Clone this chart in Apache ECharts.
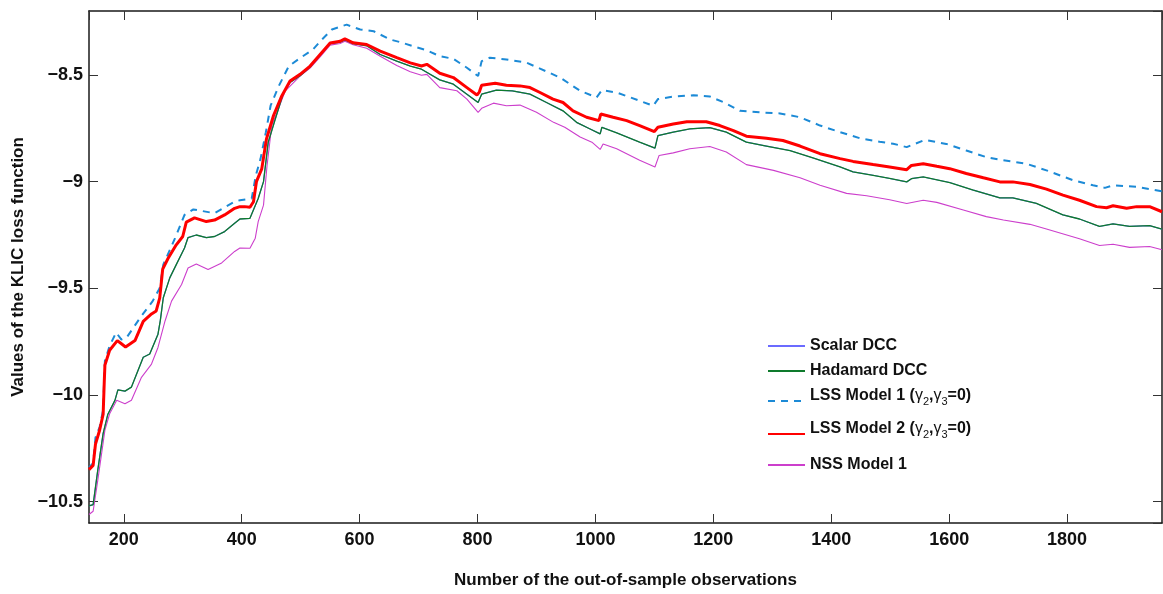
<!DOCTYPE html>
<html>
<head>
<meta charset="utf-8">
<script src="https://cdn.jsdelivr.net/npm/echarts@6/dist/echarts.min.js"></script>
<style>
html,body{margin:0;padding:0;background:#fff;overflow:hidden;width:100%;height:100%;}
#c{width:100vw;height:100vh;}
</style>
</head>
<body>
<div id="c"></div>
<script>
// ---- data (x = observation number, y = KLIC loss) ----
const seriesNames = ['Scalar DCC', 'Hadamard DCC', 'LSS Model 1', 'LSS Model 2', 'NSS Model 1'];
const xTickLabels = ['200','400','600','800','1000','1200','1400','1600','1800'];
const yTickLabels = ['−10.5','−10','−9.5','−9','−8.5'];

const lssModel2 = [[141,-10.35],[148,-10.33],[152,-10.23],[159,-10.165],[165,-10.09],[167,-9.93],[168,-9.86],[176,-9.79],[189,-9.745],[196,-9.76],[203,-9.775],[219,-9.745],[233,-9.655],[247,-9.62],[255,-9.606],[261,-9.545],[266,-9.41],[275,-9.36],[289,-9.296],[300,-9.257],[306,-9.19],[320,-9.17],[340,-9.187],[354,-9.18],[371,-9.156],[388,-9.125],[397,-9.117],[405,-9.117],[414,-9.12],[420,-9.094],[425,-9.0],[434,-8.94],[442,-8.8],[454,-8.69],[468,-8.598],[482,-8.528],[499,-8.497],[516,-8.458],[533,-8.404],[550,-8.35],[567,-8.342],[575,-8.33],[589,-8.349],[612,-8.357],[635,-8.388],[663,-8.419],[686,-8.443],[705,-8.458],[714,-8.45],[736,-8.492],[759,-8.512],[782,-8.559],[799,-8.594],[803,-8.58],[807,-8.548],[830,-8.539],[849,-8.548],[872,-8.551],[889,-8.559],[906,-8.582],[928,-8.613],[945,-8.629],[962,-8.668],[985,-8.698],[1006,-8.714],[1009,-8.683],[1030,-8.698],[1053,-8.714],[1075,-8.737],[1100,-8.765],[1106,-8.745],[1132,-8.73],[1155,-8.719],[1188,-8.719],[1211,-8.737],[1234,-8.761],[1256,-8.787],[1290,-8.796],[1318,-8.807],[1347,-8.833],[1381,-8.869],[1415,-8.892],[1437,-8.905],[1471,-8.92],[1499,-8.931],[1528,-8.944],[1536,-8.924],[1556,-8.916],[1579,-8.928],[1601,-8.939],[1629,-8.962],[1658,-8.982],[1686,-9.001],[1708,-9.001],[1737,-9.013],[1765,-9.035],[1793,-9.063],[1821,-9.087],[1850,-9.117],[1867,-9.122],[1878,-9.113],[1901,-9.125],[1918,-9.117],[1940,-9.117],[1961,-9.141]];

const hadamardDCC = [[141,-10.52],[148,-10.514],[156,-10.35],[165,-10.18],[173,-10.09],[185,-10.025],[190,-9.976],[202,-9.982],[213,-9.963],[233,-9.823],[244,-9.808],[258,-9.715],[262,-9.65],[267,-9.544],[278,-9.451],[289,-9.389],[303,-9.311],[309,-9.262],[323,-9.25],[340,-9.262],[354,-9.257],[371,-9.234],[388,-9.195],[397,-9.175],[414,-9.172],[417,-9.169],[428,-9.079],[437,-9.0],[445,-8.815],[457,-8.706],[471,-8.582],[482,-8.535],[499,-8.503],[516,-8.463],[533,-8.408],[550,-8.353],[567,-8.346],[575,-8.335],[589,-8.353],[612,-8.363],[635,-8.404],[663,-8.435],[686,-8.458],[705,-8.473],[736,-8.523],[759,-8.543],[782,-8.59],[801,-8.629],[807,-8.59],[832,-8.571],[859,-8.574],[889,-8.59],[917,-8.629],[945,-8.668],[968,-8.722],[991,-8.753],[1008,-8.776],[1011,-8.745],[1036,-8.771],[1075,-8.815],[1101,-8.843],[1106,-8.784],[1132,-8.768],[1160,-8.753],[1194,-8.747],[1222,-8.768],[1256,-8.815],[1290,-8.833],[1330,-8.854],[1369,-8.889],[1415,-8.931],[1437,-8.954],[1471,-8.97],[1499,-8.985],[1528,-9.001],[1536,-8.986],[1556,-8.978],[1601,-9.004],[1641,-9.04],[1686,-9.076],[1708,-9.076],[1748,-9.102],[1793,-9.156],[1821,-9.175],[1855,-9.21],[1878,-9.198],[1906,-9.21],[1940,-9.206],[1961,-9.223]];

// Scalar DCC is hidden beneath Hadamard DCC in the reference
const scalarDCC = hadamardDCC;

const nssModel1 = [[141,-10.56],[148,-10.545],[156,-10.398],[168,-10.165],[176,-10.088],[188,-10.025],[202,-10.041],[213,-10.025],[230,-9.917],[247,-9.855],[258,-9.777],[270,-9.653],[281,-9.56],[298,-9.482],[309,-9.405],[323,-9.386],[343,-9.412],[366,-9.381],[388,-9.327],[397,-9.311],[414,-9.312],[423,-9.265],[428,-9.187],[437,-9.11],[443,-8.924],[451,-8.737],[462,-8.66],[474,-8.574],[499,-8.505],[516,-8.468],[533,-8.415],[550,-8.36],[567,-8.352],[575,-8.342],[589,-8.358],[612,-8.375],[635,-8.412],[663,-8.455],[686,-8.485],[705,-8.501],[714,-8.497],[736,-8.559],[765,-8.574],[782,-8.613],[801,-8.675],[807,-8.656],[827,-8.632],[849,-8.644],[872,-8.641],[900,-8.675],[929,-8.722],[948,-8.745],[974,-8.791],[994,-8.815],[1008,-8.849],[1013,-8.823],[1036,-8.846],[1075,-8.9],[1101,-8.931],[1108,-8.877],[1132,-8.865],[1160,-8.846],[1194,-8.835],[1222,-8.861],[1256,-8.92],[1302,-8.947],[1347,-8.982],[1381,-9.017],[1426,-9.055],[1460,-9.066],[1499,-9.085],[1528,-9.102],[1556,-9.087],[1579,-9.097],[1624,-9.133],[1663,-9.164],[1692,-9.18],[1737,-9.2],[1765,-9.222],[1821,-9.268],[1855,-9.299],[1878,-9.293],[1906,-9.308],[1940,-9.304],[1961,-9.319]];

const lssModel1 = [[141,-10.34],[148,-10.32],[152,-10.2],[159,-10.15],[165,-10.07],[167,-9.9],[168,-9.84],[176,-9.77],[187,-9.707],[196,-9.74],[205,-9.73],[228,-9.637],[249,-9.56],[261,-9.498],[267,-9.389],[287,-9.265],[303,-9.156],[318,-9.13],[354,-9.148],[388,-9.094],[397,-9.087],[417,-9.079],[424,-8.97],[432,-8.892],[441,-8.768],[449,-8.644],[463,-8.551],[480,-8.458],[500,-8.419],[521,-8.38],[536,-8.334],[553,-8.287],[578,-8.264],[601,-8.287],[624,-8.295],[652,-8.334],[669,-8.346],[691,-8.365],[714,-8.384],[736,-8.412],[759,-8.424],[782,-8.466],[801,-8.505],[807,-8.435],[821,-8.419],[849,-8.427],[883,-8.442],[906,-8.47],[940,-8.512],[974,-8.574],[1002,-8.605],[1011,-8.571],[1036,-8.582],[1075,-8.621],[1098,-8.644],[1106,-8.613],[1132,-8.601],[1166,-8.595],[1194,-8.601],[1216,-8.626],[1245,-8.668],[1279,-8.675],[1313,-8.68],[1347,-8.698],[1381,-8.737],[1415,-8.768],[1448,-8.796],[1482,-8.813],[1505,-8.822],[1528,-8.838],[1559,-8.804],[1595,-8.823],[1629,-8.854],[1663,-8.885],[1692,-8.9],[1731,-8.916],[1765,-8.947],[1810,-8.993],[1844,-9.017],[1864,-9.029],[1878,-9.017],[1918,-9.024],[1961,-9.045]];

// ---- chart ----
const FONT = '"Liberation Sans", Arial, Helvetica, sans-serif';
const chart = echarts.init(document.getElementById('c'), null, {renderer: 'canvas'});

function fmtNum(v) {
  const s = String(Math.round(v * 10) / 10).replace('-', '−');
  const all = xTickLabels.concat(yTickLabels);
  return all.indexOf(s) >= 0 ? s : '';
}

const axisLineStyle = {color: '#1a1a1a', width: 1.5};
const tickStyle = {inside: true, length: 9, lineStyle: {color: '#333', width: 1}};
const labelStyle = {fontFamily: FONT, fontSize: 18, fontWeight: 'bold', color: '#111', showMinLabel: false, showMaxLabel: false};

const xBase = {type: 'value', min: 141, max: 1961, minInterval: 200, maxInterval: 200, splitNumber: 8, splitLine: {show: false}};
const yBase = {type: 'value', min: -10.6, max: -8.2, minInterval: 0.5, maxInterval: 0.5, splitNumber: 5, splitLine: {show: false}};

const legendCommon = {
  orient: 'vertical', left: 767, padding: 0, itemWidth: 37, itemHeight: 14,
  textStyle: {fontFamily: FONT, fontSize: 16, fontWeight: 'bold', color: '#111'},
  itemStyle: {color: 'rgba(0,0,0,0)', borderColor: 'rgba(0,0,0,0)', borderWidth: 0, opacity: 0},
  selectedMode: false
};
const subRich = {
  b: {fontFamily: FONT, fontSize: 16, fontWeight: 'bold', color: '#111', padding: [0, 0, 10, 0]},
  g: {fontFamily: FONT, fontSize: 16, fontWeight: 'normal', color: '#111', padding: [0, 0, 10, 0]},
  s: {fontFamily: FONT, fontSize: 11, fontWeight: 'normal', color: '#111', padding: [2, 0, 0, 0]}
};
function lssFmt(name) {
  return '{b|' + name + ' (}{g|γ}{s|2}{b|,}{g|γ}{s|3}{b|=0)}';
}

chart.setOption({
  animation: false,
  backgroundColor: '#fff',
  grid: {left: 89, right: 1, top: 11, bottom: 68, containLabel: false},
  xAxis: [
    Object.assign({}, xBase, {
      position: 'bottom',
      axisLine: {onZero: false, lineStyle: axisLineStyle},
      axisTick: tickStyle,
      axisLabel: Object.assign({}, labelStyle, {margin: 8, formatter: fmtNum}),
      name: 'Number of the out-of-sample observations',
      nameLocation: 'middle', nameGap: 49,
      nameTextStyle: {fontFamily: FONT, fontSize: 17, fontWeight: 'bold', color: '#111'}
    }),
    Object.assign({}, xBase, {
      position: 'top',
      axisLine: {onZero: false, lineStyle: axisLineStyle},
      axisTick: tickStyle,
      axisLabel: {show: false}
    })
  ],
  yAxis: [
    Object.assign({}, yBase, {
      position: 'left',
      axisLine: {onZero: false, lineStyle: axisLineStyle},
      axisTick: tickStyle,
      axisLabel: Object.assign({}, labelStyle, {margin: 6, formatter: fmtNum}),
      name: 'Values of the KLIC loss function',
      nameLocation: 'middle', nameGap: 58,
      nameTextStyle: {fontFamily: FONT, fontSize: 17, fontWeight: 'bold', color: '#111'}
    }),
    Object.assign({}, yBase, {
      position: 'right',
      axisLine: {onZero: false, lineStyle: axisLineStyle},
      axisTick: tickStyle,
      axisLabel: {show: false}
    })
  ],
  legend: [
    Object.assign({}, legendCommon, {top: 338, data: [seriesNames[0]]}),
    Object.assign({}, legendCommon, {top: 363, data: [seriesNames[1]]}),
    Object.assign({}, legendCommon, {top: 388, data: [seriesNames[2]], formatter: lssFmt,
      textStyle: Object.assign({}, legendCommon.textStyle, {rich: subRich})}),
    Object.assign({}, legendCommon, {top: 421, data: [seriesNames[3]], formatter: lssFmt,
      textStyle: Object.assign({}, legendCommon.textStyle, {rich: subRich})}),
    Object.assign({}, legendCommon, {top: 457, data: [seriesNames[4]]})
  ],
  series: [
    {name: seriesNames[0], type: 'line', data: scalarDCC, symbol: 'none', showSymbol: false,
      lineStyle: {color: '#6b6bff', width: 1.2}, itemStyle: {color: '#6b6bff'}},
    {name: seriesNames[4], type: 'line', data: nssModel1, symbol: 'none', showSymbol: false,
      lineStyle: {color: '#cc3fcc', width: 1.1}, itemStyle: {color: '#cc3fcc'}},
    {name: seriesNames[1], type: 'line', data: hadamardDCC, symbol: 'none', showSymbol: false,
      lineStyle: {color: '#0e7a2c', width: 1.3}, itemStyle: {color: '#0e7a2c'}},
    {name: seriesNames[2], type: 'line', data: lssModel1, symbol: 'none', showSymbol: false,
      lineStyle: {color: '#1c8ad6', width: 2, type: [7, 6]}, itemStyle: {color: '#1c8ad6'}},
    {name: seriesNames[3], type: 'line', data: lssModel2, symbol: 'none', showSymbol: false,
      lineStyle: {color: '#ff0000', width: 3}, itemStyle: {color: '#ff0000'}}
  ]
});
</script>
</body>
</html>
